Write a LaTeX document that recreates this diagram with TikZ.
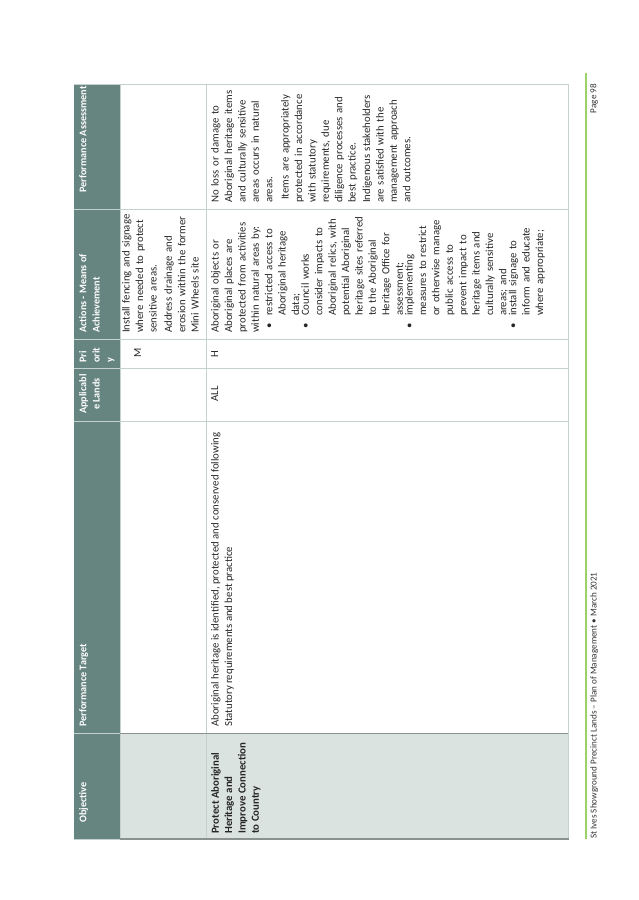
\documentclass[tikz,border=0pt]{standalone}
\usepackage{fontspec}
\setmainfont{Carlito}
\definecolor{hdrteal}{HTML}{668480}
\definecolor{objgrey}{HTML}{DAE3E0}
\definecolor{gridgrey}{HTML}{C5D1CF}
\definecolor{footgreen}{HTML}{9CD165}
\newcommand{\bitem}[1]{\par\noindent\hspace*{4pt}\makebox[13pt][l]{\textbullet}\parbox[t]{112pt}{#1}\par}

\begin{document}
\begin{tikzpicture}[x=1pt, y=1pt,
    hdrtext/.style={anchor=north west, inner sep=0pt, text=white,
        font=\fontsize{10.2}{13.3}\selectfont\bfseries, align=left},
    celltext/.style={anchor=north west, inner sep=0pt, text=black!85,
        font=\fontsize{10.8}{13.4}\selectfont, align=left},
    gridline/.style={draw=gridgrey, line width=1pt}
]
    \useasboundingbox (0,0) rectangle (638,-900);

    % The page is printed sideways: draw it in landscape coordinates.
    \begin{scope}[shift={(0,-900)}, rotate=90, transform shape]

        % Fills for the header row and the objective column.
        \fill[hdrteal] (61,-74) rectangle (816,-120);
        \fill[objgrey] (61,-120) rectangle (167,-568);

        % Grid lines.
        \foreach \ydown in {120, 206, 568}
            \draw[gridline] (61,-\ydown) -- (816,-\ydown);
        \foreach \xcol in {61, 167, 479, 532, 561, 691, 816}
            \draw[gridline] (\xcol,-74) -- (\xcol,-568);
        \draw[gridgrey!70!black, line width=1pt] (167,-120) -- (167,-568);
        \draw[gridgrey!70!black, line width=1.2pt] (61,-120) -- (61,-569);

        % Header row.
        \node[hdrtext] (hobj) at (77,-79) {Objective};
        \node[hdrtext] (htarget) at (173,-79) {Performance Target};
        \node[hdrtext, anchor=north, align=center] (hlands) at (506,-79) {Applicabl\\e Lands};
        \node[hdrtext] (hprio) at (537,-79) {Pri\\orit\\y};
        \node[hdrtext] (hactions) at (567,-79) {Actions - Means of\\Achievement};
        \node[hdrtext] (hassess) at (707,-79) {Performance Assessment};

        % First row.
        \node[celltext] (prioa) at (542,-134) {M};
        \node[celltext, text width=126pt] (actionsa) at (567,-122) {%
            Install fencing and signage\\where needed to protect\\sensitive areas.\par
            \vspace{2pt}Address drainage and\\erosion within the former\\Mini Wheels site};

        % Second row.
        \node[celltext, font=\fontsize{10.8}{13.4}\selectfont\bfseries] (objb) at (66,-211) {%
            Protect Aboriginal\\Heritage and\\Improve Connection\\to Country};
        \node[celltext] (targetb) at (173,-211) {%
            Aboriginal heritage is identified, protected and conserved following\\
            Statutory requirements and best practice};
        \node[celltext, anchor=north] (landsb) at (506,-211) {ALL};
        \node[celltext] (priob) at (542,-211) {H};
        \node[celltext, text width=126pt] (actionsb) at (567,-211) {%
            Aboriginal objects or\\Aboriginal places are\\protected from activities\\within natural areas by:
            \bitem{restricted access to\\Aboriginal heritage\\data;}
            \bitem{Council works\\consider impacts to\\Aboriginal relics, with\\potential Aboriginal\\heritage sites referred\\to the Aboriginal\\Heritage Office for\\assessment;}
            \bitem{implementing\\measures to restrict\\or otherwise manage\\public access to\\prevent impact to\\heritage items and\\culturally sensitive\\areas; and}
            \bitem{install signage to\\inform and educate\\where appropriate;}};
        \node[celltext, text width=122pt] (assessb) at (697,-211) {%
            No loss or damage to\\Aboriginal heritage items\\and culturally sensitive\\areas occurs in natural\\areas.\par
            \vspace{3pt}\hspace*{3pt}Items are appropriately\\protected in accordance\\with statutory\\requirements, due\\diligence processes and\\best practice.\par
            \vspace{1pt}Indigenous stakeholders\\are satisfied with the\\management approach\\and outcomes.};

        % Footer.
        \draw[footgreen, line width=1.5pt] (61,-586) coordinate (gstart) -- (827,-586) coordinate (gend);
        \node[anchor=north west, inner sep=0pt, font=\fontsize{9.1}{10}\selectfont, text=black!80] (foottitle)
            at (61,-590) {St Ives Showground Precinct Lands -- Plan of Management • March 2021};
        \node[anchor=north east, inner sep=0pt, font=\fontsize{9.1}{10}\selectfont, text=black!80] (footpage)
            at (816,-590) {Page 98};
    \end{scope}
\end{tikzpicture}
\end{document}
